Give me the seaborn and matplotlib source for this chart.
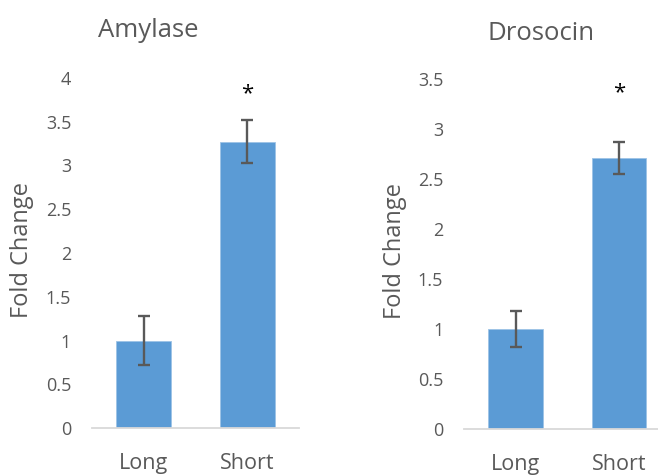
import numpy as np
import pandas as pd
import matplotlib
matplotlib.use("Agg")
import matplotlib.pyplot as plt
import seaborn as sns

groups = ["Long", "Short"]
amylase_mean = [1.0, 3.27]
amylase_err = [0.28, 0.245]
drosocin_mean = [1.0, 2.71]
drosocin_err = [0.18, 0.16]
star_y = {"Amylase": 3.82, "Drosocin": 3.36}

sns.set_style("white")
plt.rcParams["font.family"] = ["Open Sans", "DejaVu Sans"]

text_grey = "#595959"
bar_blue = "#5B9BD5"

fig = plt.figure(figsize=(6.58, 4.76), dpi=100)

panels = [
    ("Amylase", amylase_mean, amylase_err, [0.1398, 0.1002, 0.3146, 0.7366], 4,
     np.arange(0, 4.01, 0.5), (0.2249, 0.9349), (-0.338, 0.509)),
    ("Drosocin", drosocin_mean, drosocin_err, [0.7052, 0.0987, 0.3138, 0.7353], 3.5,
     np.arange(0, 3.51, 0.5), (0.8222, 0.9286), (-0.334, 0.509)),
]

for name, mean, err, pos, ytop, ticks, title_xy, ylab_xy in panels:
    ax = fig.add_axes(pos)
    df = pd.DataFrame({"group": groups, "value": mean})
    sns.barplot(data=df, x="group", y="value", color=bar_blue, width=0.53,
                saturation=1, edgecolor="#9DC3E6", linewidth=0.6, ax=ax)
    ax.errorbar(range(len(groups)), mean, yerr=err, fmt="none",
                ecolor=text_grey, elinewidth=1.7, capsize=4.3, capthick=1.7)
    ax.text(1, star_y[name], "*", ha="center", va="center", fontsize=16, color="black")
    ax.set_xlim(-0.5, 1.5)
    ax.set_ylim(0, ytop)
    ax.set_yticks(ticks)
    ax.set_yticklabels([f"{t:g}" for t in ticks])
    ax.set_xlabel("")
    ax.set_ylabel("Fold Change", fontsize=17, color=text_grey, va="center")
    ax.yaxis.set_label_coords(*ylab_xy)
    fig.text(title_xy[0], title_xy[1], name, ha="center", va="center",
             fontsize=18.5, color=text_grey)
    for s in ["top", "right", "left"]:
        ax.spines[s].set_visible(False)
    ax.spines["bottom"].set_color("#D9D9D9")
    ax.spines["bottom"].set_linewidth(1.3)
    ax.tick_params(axis="y", length=0, labelsize=13, colors=text_grey, pad=15)
    ax.tick_params(axis="x", length=0, labelsize=15.5, colors=text_grey, pad=18)

fig.savefig("out.png", dpi=100)
